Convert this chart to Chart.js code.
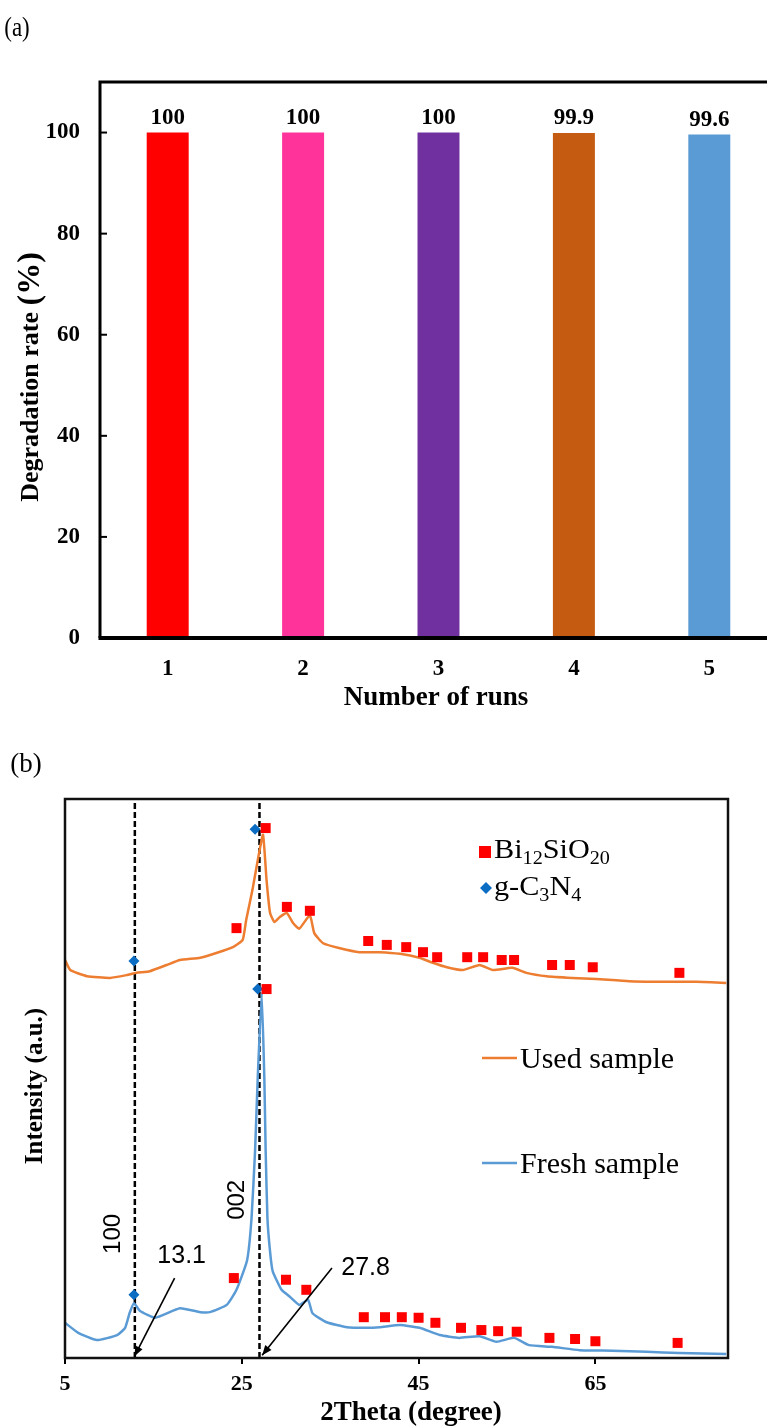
<!DOCTYPE html>
<html><head><meta charset="utf-8">
<script src="https://cdn.jsdelivr.net/npm/chart.js@4/dist/chart.umd.min.js"></script>
<style>
html,body{margin:0;padding:0;background:#fff;width:767px;height:1427px;overflow:hidden;position:relative;}
#ca{position:absolute;left:0;top:0;}
#cb{position:absolute;left:0;top:720px;}
</style></head><body>
<canvas id="ca" width="800" height="720"></canvas>
<canvas id="cb" width="767" height="707"></canvas>
<script>
// ---------- Panel (a) data ----------
const runs = ['1','2','3','4','5'];
const degradation = [100, 100, 100, 99.9, 99.6];
const barColors = ['#FF0000','#FF3399','#7030A0','#C55A11','#5B9BD5'];
const yTicksA = [0, 20, 40, 60, 80, 100];

// ---------- Panel (b) data ----------
const xTicksB = [5, 25, 45, 65];
const freshX = [5,6.5,8.6,10.9,11.8,12.3,12.8,13.5,15.2,18,20.3,21.4,23.3,24.4,25.6,26.1,26.5,26.8,27.25,27.55,27.7,27.9,28.2,28.5,29.5,30.4,31.5,32.5,33,34.6,36.9,39.1,40.6,42.9,45.1,47.4,49.6,51.9,53.8,55.8,57.5,60.1,63.2,66.9,70.8,74.5,79.8];
const freshY = [6.3,4.5,3.2,4.1,5.4,8,9.8,8.4,7.2,8.9,8.2,8.2,9.5,12.2,17.5,25,37,50,65.3,50,37,25,19,15.5,12.2,11,9.5,10.4,8,6.4,5.5,5.4,5.5,5.9,5.4,4.1,3.6,3.9,2.9,3.6,2.3,2.0,1.4,1.3,1.1,0.9,0.7];
const usedX = [5,5.6,7.5,10.1,12,13.1,14.6,16.5,18,20.3,22.2,24,25.1,25.5,26.2,26.8,27.4,27.8,28.2,28.7,29.3,30.1,30.8,31.5,32.7,33.2,34.2,36.1,38.3,40.6,42.9,45.1,46.6,48.2,50,51.9,53.4,55.6,57.2,59.5,62.4,65.1,68.8,72.6,76.4,79.8];
const usedY = [71.2,69.4,68.3,68,68.5,68.9,69.2,70.3,71.2,71.6,72.5,73.5,74.8,78.4,83.7,89,93.6,85.5,79.6,78,78.9,79.6,77.8,76.8,79.2,76,74.2,73.3,72.6,72.6,72.3,71.6,70.7,69.9,69.4,70.3,69.4,69.8,68.9,68.3,68,67.8,67.4,67.3,67.3,67.1];
const usedSqX = [24.4,27.7,30.1,32.7,39.3,41.4,43.6,45.5,47.1,50.5,52.3,54.4,55.8,60.1,62.1,64.7,74.5];
const usedSqY = [76.9,94.8,80.7,80.0,74.6,73.9,73.5,72.6,71.7,71.7,71.7,71.2,71.2,70.3,70.3,69.9,68.9];
const usedDiaX = [12.8, 26.5];
const usedDiaY = [71.0, 94.6];
const freshSqX = [24.1,27.8,30.0,32.3,38.8,41.2,43.1,45.0,46.9,49.8,52.1,54.0,56.1,59.8,62.7,65.0,74.3];
const freshSqY = [14.3,66.0,14.0,12.2,7.3,7.3,7.3,7.2,6.3,5.4,5.0,4.8,4.7,3.6,3.4,3.0,2.7];
const freshDiaX = [12.8, 26.8];
const freshDiaY = [11.3, 66.0];
const dashedX = [12.9, 27.0];
const peakLabels = ['13.1', '27.8'];
const planeLabels = ['100', '002'];

const SERIF = '"Liberation Serif","Times New Roman",serif';
const SANS = '"Liberation Sans",Arial,sans-serif';
const pts = (xs, ys) => xs.map((x, i) => ({x, y: ys[i]}));

// ---------- Chart (a) ----------
const decorA = {
  id: 'decorA',
  afterDraw(chart) {
    const {ctx, chartArea: a, scales: {y}} = chart;
    ctx.save();
    ctx.strokeStyle = '#000';
    ctx.lineWidth = 3;
    ctx.beginPath();
    ctx.moveTo(a.left, a.bottom); ctx.lineTo(a.left, a.top); ctx.lineTo(a.right, a.top); ctx.lineTo(a.right, a.bottom);
    ctx.stroke();
    ctx.lineWidth = 4;
    ctx.beginPath(); ctx.moveTo(a.left - 1.5, a.bottom); ctx.lineTo(a.right + 2, a.bottom); ctx.stroke();
    ctx.lineWidth = 2;
    yTicksA.forEach(v => {
      const py = y.getPixelForValue(v);
      ctx.beginPath(); ctx.moveTo(a.left, py); ctx.lineTo(a.left + 7, py); ctx.stroke();
    });
    ctx.fillStyle = '#000';
    ctx.font = 'bold 23px ' + SERIF;
    ctx.textAlign = 'center'; ctx.textBaseline = 'alphabetic';
    chart.getDatasetMeta(0).data.forEach((bar, i) => {
      ctx.fillText(String(degradation[i]), bar.x, bar.y - 9);
    });
    ctx.font = 'bold 27px ' + SERIF;
    ctx.textBaseline = 'middle';
    ctx.fillText('Number of runs', 436, 698);
    ctx.save();
    ctx.translate(31, 377); ctx.rotate(-Math.PI / 2);
    const t1 = 'Degradation rate ', t2 = '(%)';
    ctx.font = 'bold 26px ' + SERIF; const w1 = ctx.measureText(t1).width;
    ctx.font = 'bold 32px ' + SERIF; const w2 = ctx.measureText(t2).width;
    ctx.textAlign = 'left';
    let sx = -(w1 + w2) / 2;
    ctx.font = 'bold 26px ' + SERIF; ctx.fillText(t1, sx, 0);
    ctx.font = 'bold 32px ' + SERIF; ctx.fillText(t2, sx + w1, 0);
    ctx.restore();
    ctx.save();
    ctx.translate(17, 29); ctx.scale(0.85, 1);
    ctx.font = '27px ' + SERIF; ctx.textAlign = 'center'; ctx.textBaseline = 'middle';
    ctx.fillText('(a)', 0, 0);
    ctx.restore();
    ctx.restore();
  }
};

new Chart(document.getElementById('ca'), {
  type: 'bar',
  data: {
    labels: runs,
    datasets: [{
      data: degradation,
      backgroundColor: barColors,
      borderWidth: 0,
      barPercentage: 0.31,
      categoryPercentage: 1
    }]
  },
  options: {
    responsive: false,
    devicePixelRatio: 1,
    animation: false,
    layout: {padding: {top: 82, right: 23, left: 0, bottom: 0}},
    plugins: {legend: {display: false}, tooltip: {enabled: false}},
    scales: {
      x: {
        grid: {display: false, drawTicks: false},
        border: {display: false},
        ticks: {color: '#000', font: {family: SERIF, size: 23, weight: 'bold'}, padding: 17},
        afterFit(s) { s.height = 82; }
      },
      y: {
        min: 0, max: 110,
        grid: {display: false, drawTicks: false},
        border: {display: false},
        ticks: {stepSize: 20, color: '#000', font: {family: SERIF, size: 23, weight: 'bold'}, padding: 20},
        afterBuildTicks(s) { s.ticks = yTicksA.map(v => ({value: v})); },
        afterFit(s) { s.width = 100; }
      }
    }
  },
  plugins: [decorA]
});

// ---------- Chart (b) ----------
function arrow(ctx, x1, y1, x2, y2) {
  ctx.beginPath(); ctx.moveTo(x1, y1); ctx.lineTo(x2, y2); ctx.stroke();
  const ang = Math.atan2(y2 - y1, x2 - x1), L = 10, W = 4;
  ctx.beginPath();
  ctx.moveTo(x2, y2);
  ctx.lineTo(x2 - L * Math.cos(ang) + W * Math.sin(ang), y2 - L * Math.sin(ang) - W * Math.cos(ang));
  ctx.lineTo(x2 - L * Math.cos(ang) - W * Math.sin(ang), y2 - L * Math.sin(ang) + W * Math.cos(ang));
  ctx.closePath(); ctx.fill();
}
function richText(ctx, parts, x, y, size, sx) {
  ctx.save(); ctx.translate(x, y); ctx.scale(sx, 1);
  ctx.textAlign = 'left'; ctx.textBaseline = 'alphabetic';
  let cx = 0;
  for (const [t, sub] of parts) {
    const fs = sub ? Math.round(size * 0.65) : size;
    ctx.font = fs + 'px ' + SERIF;
    ctx.fillText(t, cx, sub ? size * 0.22 : 0);
    cx += ctx.measureText(t).width;
  }
  ctx.restore();
}

const decorB = {
  id: 'decorB',
  afterDraw(chart) {
    const {ctx, chartArea: a, scales: {x, y}} = chart;
    ctx.save();
    ctx.strokeStyle = '#111'; ctx.lineWidth = 2.5;
    ctx.strokeRect(a.left, a.top, a.right - a.left, a.bottom - a.top);
    ctx.strokeStyle = '#000'; ctx.fillStyle = '#000'; ctx.lineWidth = 1.6;
    arrow(ctx, x.getPixelForValue(17.4), y.getPixelForValue(14.3), x.getPixelForValue(12.85), y.getPixelForValue(0.3));
    arrow(ctx, x.getPixelForValue(35.2), y.getPixelForValue(16.1), x.getPixelForValue(27.3), y.getPixelForValue(0.5));
    ctx.font = '25px ' + SANS; ctx.textAlign = 'center'; ctx.textBaseline = 'middle';
    ctx.fillText(peakLabels[0], x.getPixelForValue(18.2), y.getPixelForValue(18.2));
    ctx.fillText(peakLabels[1], x.getPixelForValue(39.0), y.getPixelForValue(16.1));
    ctx.font = '24px ' + SANS;
    [[planeLabels[0], 10.5, 22.2], [planeLabels[1], 24.5, 28.3]].forEach(([t, vx, vy]) => {
      ctx.save(); ctx.translate(x.getPixelForValue(vx), y.getPixelForValue(vy)); ctx.rotate(-Math.PI / 2);
      ctx.fillText(t, 0, 0); ctx.restore();
    });
    // legend markers
    ctx.fillStyle = '#FF0000'; ctx.fillRect(479, 126, 12, 12);
    ctx.fillStyle = '#0A6CC2';
    ctx.beginPath(); ctx.moveTo(480, 168); ctx.lineTo(486, 162); ctx.lineTo(492, 168); ctx.lineTo(486, 174); ctx.closePath(); ctx.fill();
    ctx.fillStyle = '#000';
    richText(ctx, [['Bi'], ['12', 1], ['SiO'], ['20', 1]], 494, 138, 27, 1.12);
    richText(ctx, [['g-C'], ['3', 1], ['N'], ['4', 1]], 494, 175, 27, 1.12);
    ctx.lineWidth = 2.5;
    ctx.strokeStyle = '#ED7D31'; ctx.beginPath(); ctx.moveTo(482, 338); ctx.lineTo(517, 338); ctx.stroke();
    ctx.strokeStyle = '#5B9BD5'; ctx.beginPath(); ctx.moveTo(482, 443); ctx.lineTo(517, 443); ctx.stroke();
    ctx.fillStyle = '#000';
    ctx.font = '30px ' + SERIF; ctx.textAlign = 'left'; ctx.textBaseline = 'alphabetic';
    ctx.fillText('Used sample', 520, 348);
    ctx.fillText('Fresh sample', 520, 453);
    ctx.font = 'bold 27px ' + SERIF; ctx.textAlign = 'center'; ctx.textBaseline = 'middle';
    ctx.fillText('2Theta (degree)', 411, 693);
    ctx.save(); ctx.translate(36, 366); ctx.rotate(-Math.PI / 2);
    ctx.font = 'bold 25px ' + SERIF; ctx.fillText('Intensity (a.u.)', 0, 0); ctx.restore();
    ctx.font = '27px ' + SERIF; ctx.fillText('(b)', 26, 45);
    ctx.restore();
  }
};

const lineDs = (label, xs, ys, color) => ({
  type: 'line', label, data: pts(xs, ys), borderColor: color, borderWidth: 2.5,
  pointRadius: 0, tension: 0.15, fill: false, order: 5
});
const markDs = (label, xs, ys, style, r, color) => ({
  type: 'scatter', label, data: pts(xs, ys), pointStyle: style, pointRadius: r,
  backgroundColor: color, borderWidth: 0, order: 1
});
const dashDs = (xv) => ({
  type: 'line', label: 'ref ' + xv, data: [{x: xv, y: 0}, {x: xv, y: 100}],
  borderColor: '#000', borderWidth: 2.5, borderDash: [6, 3], pointRadius: 0, order: 10
});

new Chart(document.getElementById('cb'), {
  type: 'scatter',
  data: {
    datasets: [
      dashDs(dashedX[0]), dashDs(dashedX[1]),
      lineDs('Used sample', usedX, usedY, '#ED7D31'),
      lineDs('Fresh sample', freshX, freshY, '#5B9BD5'),
      markDs('Bi12SiO20 used', usedSqX, usedSqY, 'rect', 7.07, '#FF0000'),
      markDs('g-C3N4 used', usedDiaX, usedDiaY, 'rectRot', 5.5, '#0A6CC2'),
      markDs('Bi12SiO20 fresh', freshSqX, freshSqY, 'rect', 7.07, '#FF0000'),
      markDs('g-C3N4 fresh', freshDiaX, freshDiaY, 'rectRot', 5.5, '#0A6CC2')
    ]
  },
  options: {
    responsive: false,
    devicePixelRatio: 1,
    animation: false,
    layout: {padding: {top: 79, right: 39, left: 65, bottom: 0}},
    plugins: {legend: {display: false}, tooltip: {enabled: false}},
    scales: {
      x: {
        type: 'linear', min: 5, max: 80,
        grid: {display: true, drawOnChartArea: false, drawTicks: true, tickLength: 6, color: '#000', lineWidth: 2},
        border: {display: false},
        ticks: {color: '#000', font: {family: SERIF, size: 22, weight: 'bold'}, padding: 7},
        afterBuildTicks(s) { s.ticks = xTicksB.map(v => ({value: v})); },
        afterFit(s) { s.height = 69; }
      },
      y: {display: false, min: 0, max: 100}
    }
  },
  plugins: [decorB]
});
</script>
</body></html>
